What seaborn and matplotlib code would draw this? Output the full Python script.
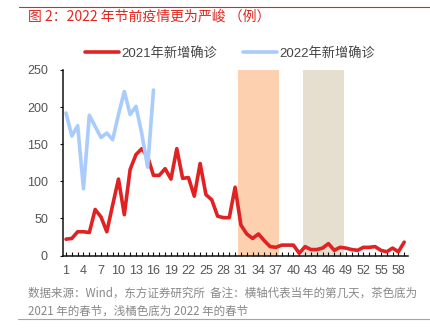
import numpy as np
import pandas as pd
import matplotlib
matplotlib.use("Agg")
import matplotlib.pyplot as plt
from matplotlib.lines import Line2D
import seaborn as sns

# Daily new confirmed cases by day of year
days_2021 = list(range(1, 60))
cases_2021 = [22, 23, 32, 32, 31, 62, 52, 32, 68, 103, 55, 116, 136, 144, 133,
              108, 108, 117, 103, 144, 104, 105, 80, 124, 82, 75, 53, 51, 51, 92,
              41, 29, 23, 29, 20, 12, 11, 14, 14, 14, 3, 12, 8, 8, 10,
              16, 7, 11, 10, 8, 7, 11, 11, 12, 7, 5, 10, 5, 18]
days_2022 = list(range(1, 17))
cases_2022 = [192, 161, 175, 90, 189, 174, 159, 165, 156, 190, 221, 190, 201,
              164, 119, 223]

series_names = ["2021年新增确诊", "2022年新增确诊"]
series_colors = ["#e02222", "#a9ccfc"]

# Spring Festival weeks (day-of-year ranges)
festival_2022 = (30.5, 37.5)
festival_2021 = (41.6, 48.6)

title_text = "图 2：2022 年节前疫情更为严峻 （例）"
note_lines = ["数据来源：Wind，东方证券研究所  备注：横轴代表当年的第几天，茶色底为",
              "2021 年的春节，浅橘色底为 2022 年的春节"]

yticks = [0, 50, 100, 150, 200, 250]
xticks = list(range(1, 59, 3))

df = pd.concat([
    pd.DataFrame({"day": days_2021, "cases": cases_2021, "series": series_names[0]}),
    pd.DataFrame({"day": days_2022, "cases": cases_2022, "series": series_names[1]}),
])

sns.set_theme(style="white")
fonts = ["Liberation Sans", "Noto Sans CJK SC", "DejaVu Sans"]
plt.rcParams["font.family"] = fonts
cjk = ["Noto Sans CJK SC", "DejaVu Sans"]

fig = plt.figure(figsize=(4.30, 3.34), dpi=100)
ax = fig.add_axes([62.5 / 430, (334 - 255.5) / 334, (408.3 - 62.5) / 430, (255.5 - 70) / 334])

ax.axvspan(*festival_2022, color="#fdd0b0", lw=0, zorder=0)
ax.axvspan(*festival_2021, color="#e6dfcf", lw=0, zorder=0)

sns.lineplot(data=df, x="day", y="cases", hue="series", hue_order=series_names,
             palette=series_colors, linewidth=2.6, ax=ax, legend=False, zorder=3)

ax.set_xlim(0.4, 59.7)
ax.set_ylim(0, 250)
ax.set_xticks(xticks)
ax.set_xticks(range(1, 60), minor=True)
ax.set_yticks(yticks)
ax.set_xlabel("")
ax.set_ylabel("")
for side in ["top", "right"]:
    ax.spines[side].set_visible(False)
for side in ["left", "bottom"]:
    ax.spines[side].set_color("#111111")
    ax.spines[side].set_linewidth(1.1)
ax.tick_params(axis="x", which="both", direction="in", length=3, width=0.8,
               color="#111111", bottom=True, labelsize=9, labelcolor="#555555", pad=7)
ax.tick_params(axis="y", direction="out", length=2.5, width=0.8, color="#111111",
               left=True, labelsize=9, labelcolor="#555555", pad=8)

# Legend drawn in figure coordinates above the plot
handles = [Line2D([], [], color=c, lw=2.6) for c in series_colors]
fig.legend(handles, series_names, loc="center", bbox_to_anchor=(230 / 430, 1 - 53 / 334),
           ncol=2, frameon=False, fontsize=9.5, handlelength=2.6, handletextpad=0.2,
           columnspacing=1.9, labelcolor="#444444")

fig.text(28 / 430, 1 - 17 / 334, title_text, color="#e0261e", fontsize=10,
         va="center", ha="left", family=cjk)
fig.add_artist(Line2D([19 / 430, 1.0], [1 - 7 / 334] * 2, color="#e0261e", lw=0.8))
fig.text(28 / 430, 1 - 293 / 334, note_lines[0], color="#888888", fontsize=8.3,
         va="center", ha="left", family=cjk)
fig.text(28 / 430, 1 - 311 / 334, note_lines[1], color="#888888", fontsize=8.3,
         va="center", ha="left", family=cjk)
fig.add_artist(Line2D([18 / 430, 1.0], [1 - 319 / 334] * 2, color="#e88a86", lw=0.8))

fig.savefig("out.png", dpi=100)
